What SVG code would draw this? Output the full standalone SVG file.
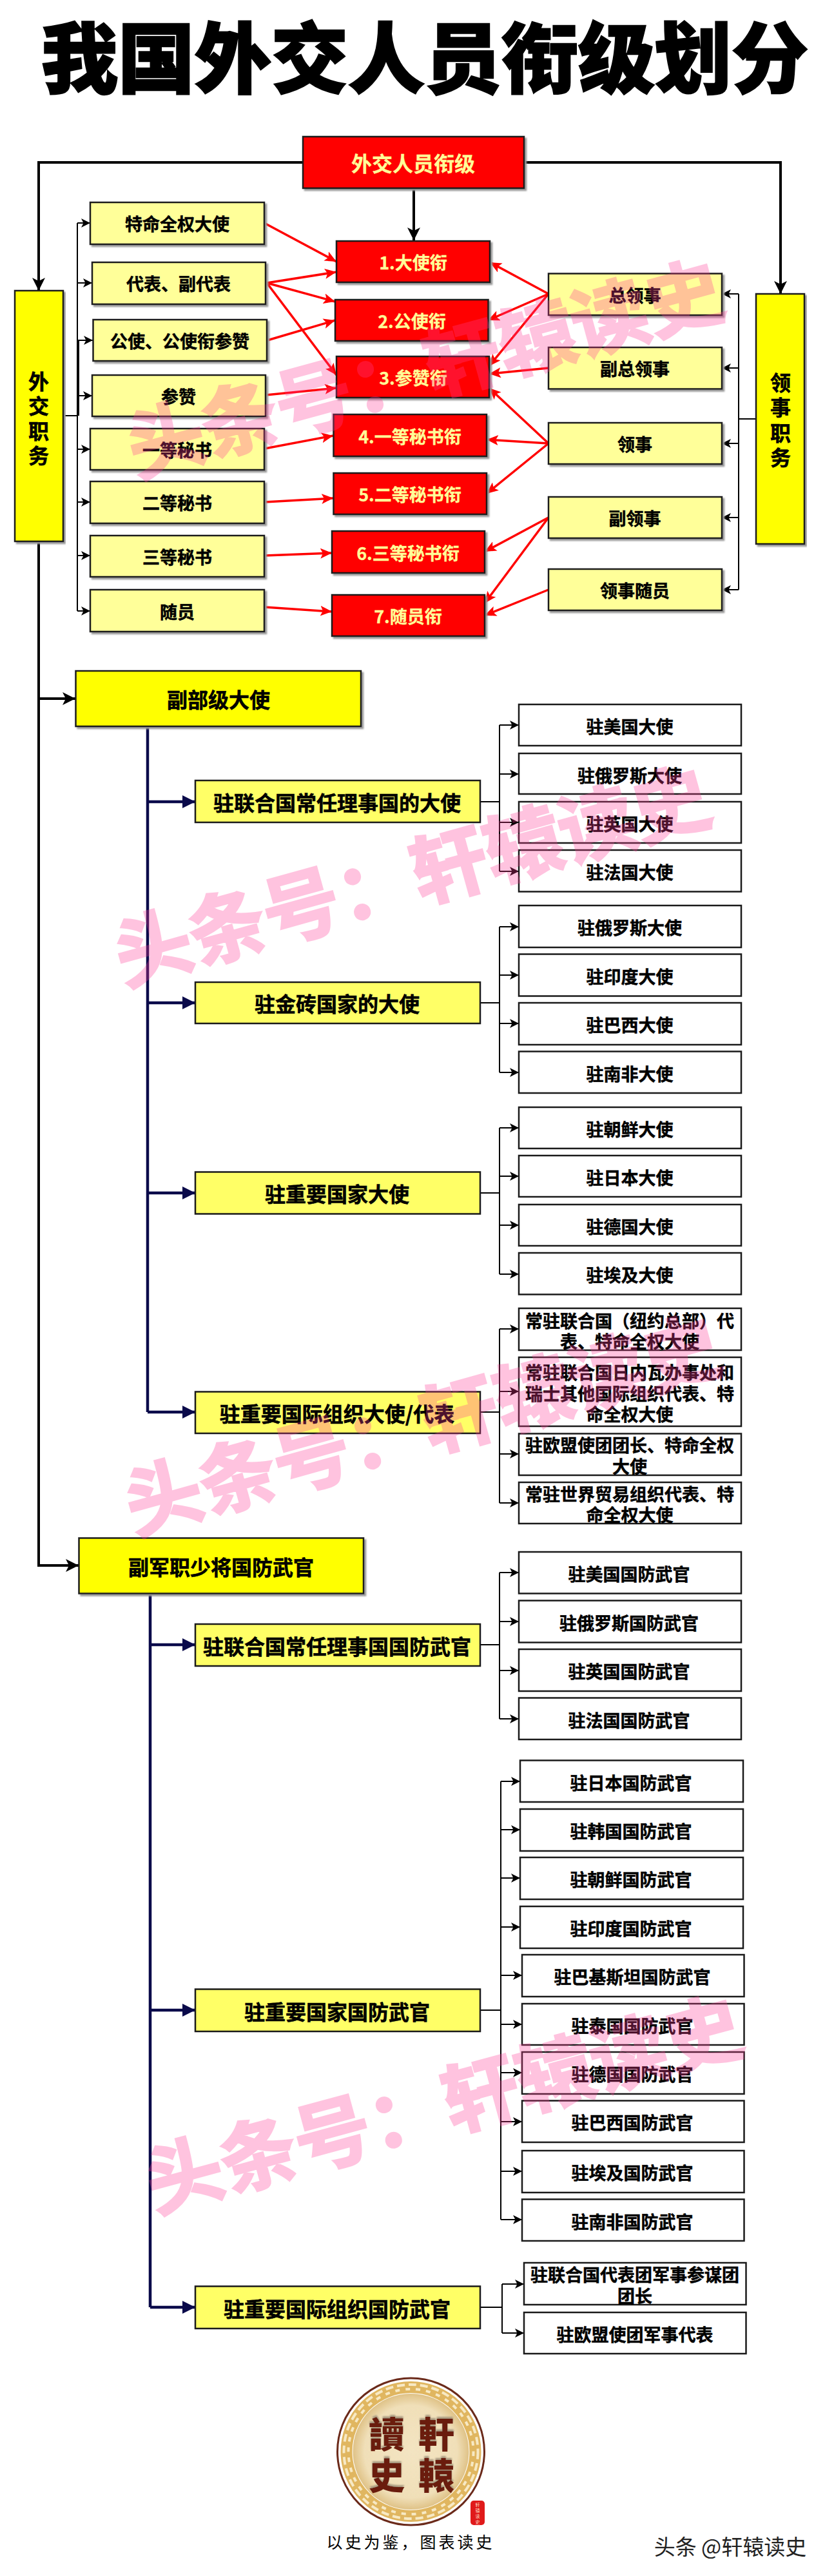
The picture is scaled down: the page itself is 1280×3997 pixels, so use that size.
<svg xmlns="http://www.w3.org/2000/svg" width="1280" height="3997" viewBox="0 0 1280 3997">
<style>
text{font-family:"Noto Sans CJK SC","Liberation Sans",sans-serif;font-weight:700;text-anchor:middle;dominant-baseline:central;fill:#000}
.t{font-size:119px;font-weight:900;dominant-baseline:auto;stroke:#000;stroke-width:2.500}
.s27{font-size:27px;stroke:#000;stroke-width:.5}.s32{font-size:32px;stroke:#000;stroke-width:.6}
.r,.y,.py,.l2,.w{stroke:#1a1a1a;stroke-width:2.5}
.r{fill:#f00;filter:url(#sh)}.y{fill:#ff0;filter:url(#sh)}.py{fill:#ff9;filter:url(#sh)}.l2{fill:#ff6}.w{fill:#fff}
text.rt{fill:#ff9;stroke:#ff9;stroke-width:.3}
.k,.kb,.n,.re{fill:none;stroke-linejoin:miter}
.k{stroke:#000;stroke-width:2;marker-end:url(#ak)}
.b{fill:none;stroke:#000;stroke-width:2}
.kb{stroke:#000;stroke-width:4;marker-end:url(#akb)}
.n{stroke:#0a0a4a;stroke-width:4.5}
.na{marker-end:url(#an)}
.re{stroke:#f00;stroke-width:3.5;marker-end:url(#ar)}
text.wm{font-size:119px;fill:#ff3c96;stroke:#ff3c96;stroke-width:3.500;opacity:.3;font-weight:700}
.lg{font-family:"Noto Sans CJK TC",sans-serif;font-size:56px;font-weight:900;fill:#6b1d10;filter:url(#ls)}
</style>
<defs>
<filter id="sh" x="-5%" y="-5%" width="110%" height="115%"><feDropShadow dx="3" dy="3" stdDeviation="1" flood-color="#999"/></filter>
<filter id="ls" x="-10%" y="-20%" width="120%" height="140%"><feDropShadow dx="0" dy="-3" stdDeviation="1" flood-color="#a89a80"/></filter>
<marker id="ak" markerUnits="userSpaceOnUse" markerWidth="14" markerHeight="14" refX="14" refY="7" orient="auto"><path d="M0 0L14 7L0 14L3.500 7Z" fill="#000"/></marker>
<marker id="akb" markerUnits="userSpaceOnUse" markerWidth="20" markerHeight="20" refX="20" refY="10" orient="auto"><path d="M0 0L20 10L0 20L5 10Z" fill="#000"/></marker>
<marker id="an" markerUnits="userSpaceOnUse" markerWidth="20" markerHeight="20" refX="20" refY="10" orient="auto"><path d="M0 0L20 10L0 20Z" fill="#0a0a4a"/></marker>
<marker id="ar" markerUnits="userSpaceOnUse" markerWidth="18" markerHeight="16" refX="18" refY="8" orient="auto"><path d="M0 0L18 8L0 16L4 8Z" fill="#f00"/></marker>
<radialGradient id="lgg"><stop offset="0" stop-color="#f3e4c2"/><stop offset=".8" stop-color="#f0dfb8"/><stop offset="1" stop-color="#dfc287"/></radialGradient>
</defs>
<rect width="1280" height="3997" fill="#fff"/>
<text class="t" x="659" y="135">我国外交人员衔级划分</text>
<g id="connectors">
<path class="kb" d="M470 252H60V451"/><path class="kb" d="M813 252H1211V456"/><path class="kb" d="M642 292V373"/>
<path class="b" d="M98 645H120M120 346V948M122 528V645"/>
<path class="k" d="M120 346H140"/><path class="k" d="M120 439H143"/><path class="k" d="M120 528H144"/><path class="k" d="M120 614H143"/><path class="k" d="M120 697H140"/><path class="k" d="M120 779H140"/><path class="k" d="M120 862H140"/><path class="k" d="M120 948H140"/>
<path class="b" d="M1173 650H1146M1146 456V915"/>
<path class="k" d="M1146 456H1120"/><path class="k" d="M1146 571H1120"/><path class="k" d="M1146 688H1120"/><path class="k" d="M1146 803H1120"/><path class="k" d="M1146 915H1120"/>
<path class="re" d="M410 346L522 406"/><path class="re" d="M414 439L522 422"/><path class="re" d="M414 439L520 468"/><path class="re" d="M414 439L522 582"/><path class="re" d="M415 528L520 497"/><path class="re" d="M412 613L522 602"/><path class="re" d="M411 696L517 676"/><path class="re" d="M411 779L517 773"/><path class="re" d="M411 862L515 858"/><path class="re" d="M411 942L515 949"/>
<path class="re" d="M851 456L760 407"/><path class="re" d="M851 456L757 497"/><path class="re" d="M851 456L759 568"/><path class="re" d="M851 571L759 580"/><path class="re" d="M851 688L759 602"/><path class="re" d="M851 688L755 682"/><path class="re" d="M851 688L755 766"/><path class="re" d="M851 803L752 856"/><path class="re" d="M851 803L752 936"/><path class="re" d="M851 915L752 955"/>
<path class="kb" d="M60 840V2429H122"/><path class="kb" d="M60 1084H117"/>
<path class="n" d="M229 1127V2191"/><path class="n na" d="M229 1244H303"/><path class="n na" d="M229 1556H303"/><path class="n na" d="M229 1851H303"/><path class="n na" d="M229 2191H303"/>
<path class="n" d="M233 2473V3580"/><path class="n na" d="M233 2552H303"/><path class="n na" d="M233 3119H303"/><path class="n na" d="M233 3580H303"/>
<path class="b" d="M745 1244H775M775 1125V1352"/><path class="k" d="M775 1125H805"/><path class="k" d="M775 1201H805"/><path class="k" d="M775 1276H805"/><path class="k" d="M775 1352H805"/>
<path class="b" d="M745 1556H775M775 1438V1664"/><path class="k" d="M775 1438H805"/><path class="k" d="M775 1513H805"/><path class="k" d="M775 1588H805"/><path class="k" d="M775 1664H805"/>
<path class="b" d="M745 1851H775M775 1750V1977"/><path class="k" d="M775 1750H805"/><path class="k" d="M775 1825H805"/><path class="k" d="M775 1901H805"/><path class="k" d="M775 1977H805"/>
<path class="b" d="M745 2191H775M775 2062V2332"/><path class="k" d="M775 2062H805"/><path class="k" d="M775 2159H805"/><path class="k" d="M775 2256H805"/><path class="k" d="M775 2332H805"/>
<path class="b" d="M745 2552H775M775 2440V2667"/><path class="k" d="M775 2440H805"/><path class="k" d="M775 2516H805"/><path class="k" d="M775 2592H805"/><path class="k" d="M775 2667H805"/>
<path class="b" d="M745 3119H777M777 2764V3444"/><path class="k" d="M777 2764H807"/><path class="k" d="M777 2839H807"/><path class="k" d="M777 2914H807"/><path class="k" d="M777 2990H807"/><path class="k" d="M777 3065H810"/><path class="k" d="M777 3141H810"/><path class="k" d="M777 3216H810"/><path class="k" d="M777 3292H810"/><path class="k" d="M777 3369H810"/><path class="k" d="M777 3444H810"/>
<path class="b" d="M745 3580H779M779 3544V3620"/><path class="k" d="M779 3544H813"/><path class="k" d="M779 3620H813"/>
</g>
<g id="root"><rect class="r" x="470" y="212" width="343" height="80"/><text class="s32 rt" x="641" y="252">外交人员衔级</text></g>
<g id="waijiao"><rect class="y" x="23" y="451" width="75" height="389"/><text class="s32" x="60" y="590">外</text><text class="s32" x="60" y="628">交</text><text class="s32" x="60" y="667">职</text><text class="s32" x="60" y="705">务</text></g>
<g id="lingshi"><rect class="y" x="1173" y="456" width="75" height="388"/><text class="s32" x="1211" y="592">领</text><text class="s32" x="1211" y="630">事</text><text class="s32" x="1211" y="670">职</text><text class="s32" x="1211" y="708">务</text></g>
<g id="a1"><rect class="py" x="140" y="314" width="270" height="65"/><text class="s27" x="275" y="346">特命全权大使</text></g>
<g id="a2"><rect class="py" x="143" y="407" width="269" height="65"/><text class="s27" x="277" y="439">代表、副代表</text></g>
<g id="a3"><rect class="py" x="144.500" y="496" width="269.500" height="64"/><text class="s27" x="279" y="528">公使、公使衔参赞</text></g>
<g id="a4"><rect class="py" x="143" y="582" width="269" height="64"/><text class="s27" x="277" y="614">参赞</text></g>
<g id="a5"><rect class="py" x="140" y="665" width="270" height="64"/><text class="s27" x="275" y="697">一等秘书</text></g>
<g id="a6"><rect class="py" x="140" y="747" width="270" height="65"/><text class="s27" x="275" y="779">二等秘书</text></g>
<g id="a7"><rect class="py" x="140" y="831" width="270" height="64"/><text class="s27" x="275" y="863">三等秘书</text></g>
<g id="a8"><rect class="py" x="140" y="915" width="270" height="65"/><text class="s27" x="275" y="948">随员</text></g>
<g id="r1"><rect class="r" x="522" y="374" width="238" height="64"/><text class="s27 rt" x="641" y="406">1.大使衔</text></g>
<g id="r2"><rect class="r" x="520" y="465" width="237.500" height="64"/><text class="s27 rt" x="639" y="497">2.公使衔</text></g>
<g id="r3"><rect class="r" x="522" y="553" width="237" height="64"/><text class="s27 rt" x="641" y="585">3.参赞衔</text></g>
<g id="r4"><rect class="r" x="517.500" y="643" width="237.500" height="65"/><text class="s27 rt" x="636" y="676">4.一等秘书衔</text></g>
<g id="r5"><rect class="r" x="517.500" y="734" width="237.500" height="64"/><text class="s27 rt" x="636" y="766">5.二等秘书衔</text></g>
<g id="r6"><rect class="r" x="515" y="824" width="237" height="65"/><text class="s27 rt" x="633" y="857">6.三等秘书衔</text></g>
<g id="r7"><rect class="r" x="515" y="923" width="237" height="64"/><text class="s27 rt" x="633" y="955">7.随员衔</text></g>
<g id="c1"><rect class="py" x="851" y="424.500" width="269" height="64.500"/><text class="s27" x="985" y="457">总领事</text></g>
<g id="c2"><rect class="py" x="851" y="539" width="269" height="64.500"/><text class="s27" x="985" y="571">副总领事</text></g>
<g id="c3"><rect class="py" x="851" y="656" width="269" height="64"/><text class="s27" x="985" y="688">领事</text></g>
<g id="c4"><rect class="py" x="851" y="771" width="269" height="64"/><text class="s27" x="985" y="803">副领事</text></g>
<g id="c5"><rect class="py" x="851" y="883" width="269" height="64"/><text class="s27" x="985" y="915">领事随员</text></g>
<g id="h1"><rect class="y" x="117.500" y="1041" width="442.500" height="86"/><text class="s32" x="339" y="1084">副部级大使</text></g>
<g id="h2"><rect class="y" x="122.500" y="2386.500" width="441.500" height="86"/><text class="s32" x="343" y="2430">副军职少将国防武官</text></g>
<g id="m1"><rect class="l2" x="303" y="1211" width="442" height="65"/><text class="s32" x="523" y="1244">驻联合国常任理事国的大使</text></g>
<g id="m2"><rect class="l2" x="303" y="1524" width="442" height="64"/><text class="s32" x="523" y="1556">驻金砖国家的大使</text></g>
<g id="m3"><rect class="l2" x="303" y="1818.500" width="442" height="65"/><text class="s32" x="523" y="1851">驻重要国家大使</text></g>
<g id="m4"><rect class="l2" x="303" y="2159.500" width="442" height="64.500"/><text class="s32" x="523" y="2192">驻重要国际组织大使/代表</text></g>
<g id="m5"><rect class="l2" x="303" y="2520" width="442" height="65"/><text class="s32" x="523" y="2553">驻联合国常任理事国国防武官</text></g>
<g id="m6"><rect class="l2" x="303" y="3086.500" width="442" height="65.500"/><text class="s32" x="523" y="3120">驻重要国家国防武官</text></g>
<g id="m7"><rect class="l2" x="303" y="3547.500" width="442" height="65.500"/><text class="s32" x="523" y="3581">驻重要国际组织国防武官</text></g>
<g id="l1"><rect class="w" x="805" y="1093" width="345" height="64"/><text class="s27" x="977" y="1126">驻美国大使</text></g>
<g id="l2"><rect class="w" x="805" y="1169" width="345" height="63"/><text class="s27" x="977" y="1202">驻俄罗斯大使</text></g>
<g id="l3"><rect class="w" x="805" y="1244" width="345" height="64"/><text class="s27" x="977" y="1277">驻英国大使</text></g>
<g id="l4"><rect class="w" x="805" y="1319" width="345" height="64.500"/><text class="s27" x="977" y="1352">驻法国大使</text></g>
<g id="l5"><rect class="w" x="805" y="1405" width="345" height="65"/><text class="s27" x="977" y="1438">驻俄罗斯大使</text></g>
<g id="l6"><rect class="w" x="805" y="1480.500" width="345" height="65"/><text class="s27" x="977" y="1514">驻印度大使</text></g>
<g id="l7"><rect class="w" x="805" y="1556" width="345" height="65"/><text class="s27" x="977" y="1589">驻巴西大使</text></g>
<g id="l8"><rect class="w" x="805" y="1631.500" width="345" height="64.500"/><text class="s27" x="977" y="1665">驻南非大使</text></g>
<g id="l9"><rect class="w" x="805" y="1718" width="345" height="64"/><text class="s27" x="977" y="1751">驻朝鲜大使</text></g>
<g id="l10"><rect class="w" x="805" y="1793" width="345" height="64"/><text class="s27" x="977" y="1826">驻日本大使</text></g>
<g id="l11"><rect class="w" x="805" y="1869" width="345" height="64"/><text class="s27" x="977" y="1902">驻德国大使</text></g>
<g id="l12"><rect class="w" x="805" y="1944" width="345" height="64.500"/><text class="s27" x="977" y="1977">驻埃及大使</text></g>
<g id="l13"><rect class="w" x="805" y="2030" width="345" height="65"/><text class="s27" x="977" y="2048">常驻联合国（纽约总部）代</text><text class="s27" x="977" y="2080">表、特命全权大使</text></g>
<g id="l14"><rect class="w" x="805" y="2106" width="345" height="107"/><text class="s27" x="977" y="2128">常驻联合国日内瓦办事处和</text><text class="s27" x="977" y="2161">瑞士其他国际组织代表、特</text><text class="s27" x="977" y="2193">命全权大使</text></g>
<g id="l15"><rect class="w" x="805" y="2224.500" width="345" height="64.500"/><text class="s27" x="977" y="2241">驻欧盟使团团长、特命全权</text><text class="s27" x="977" y="2274">大使</text></g>
<g id="l16"><rect class="w" x="805" y="2300" width="345" height="64"/><text class="s27" x="977" y="2317">常驻世界贸易组织代表、特</text><text class="s27" x="977" y="2349">命全权大使</text></g>
<g id="l17"><rect class="w" x="805" y="2408" width="345" height="64.500"/><text class="s27" x="976" y="2441">驻美国国防武官</text></g>
<g id="l18"><rect class="w" x="805" y="2483.500" width="345" height="65"/><text class="s27" x="976" y="2517">驻俄罗斯国防武官</text></g>
<g id="l19"><rect class="w" x="805" y="2559" width="345" height="65"/><text class="s27" x="976" y="2592">驻英国国防武官</text></g>
<g id="l20"><rect class="w" x="805" y="2634.500" width="345" height="64.500"/><text class="s27" x="976" y="2668">驻法国国防武官</text></g>
<g id="l21"><rect class="w" x="807" y="2731.500" width="346" height="64.500"/><text class="s27" x="979" y="2765">驻日本国防武官</text></g>
<g id="l22"><rect class="w" x="807" y="2807" width="346" height="65"/><text class="s27" x="979" y="2840">驻韩国国防武官</text></g>
<g id="l23"><rect class="w" x="807" y="2882" width="346" height="65"/><text class="s27" x="979" y="2915">驻朝鲜国防武官</text></g>
<g id="l24"><rect class="w" x="807" y="2958" width="346" height="65"/><text class="s27" x="979" y="2991">驻印度国防武官</text></g>
<g id="l25"><rect class="w" x="810" y="3033" width="344.500" height="65"/><text class="s27" x="981" y="3066">驻巴基斯坦国防武官</text></g>
<g id="l26"><rect class="w" x="810" y="3109" width="344.500" height="64"/><text class="s27" x="981" y="3142">驻泰国国防武官</text></g>
<g id="l27"><rect class="w" x="810" y="3184" width="344.500" height="65"/><text class="s27" x="981" y="3217">驻德国国防武官</text></g>
<g id="l28"><rect class="w" x="810" y="3259.500" width="344.500" height="64.500"/><text class="s27" x="981" y="3292">驻巴西国防武官</text></g>
<g id="l29"><rect class="w" x="810" y="3337" width="344.500" height="65"/><text class="s27" x="981" y="3370">驻埃及国防武官</text></g>
<g id="l30"><rect class="w" x="810" y="3412.500" width="344.500" height="64.500"/><text class="s27" x="981" y="3446">驻南非国防武官</text></g>
<g id="l31"><rect class="w" x="813" y="3511" width="344.500" height="65"/><text class="s27" x="985" y="3528">驻联合国代表团军事参谋团</text><text class="s27" x="985" y="3561">团长</text></g>
<g id="l32"><rect class="w" x="813" y="3588" width="344.500" height="64"/><text class="s27" x="985" y="3621">驻欧盟使团军事代表</text></g>
<g id="logo">
<circle cx="637.500" cy="3804" r="114" fill="#fff" stroke="#6b2a1a" stroke-width="3"/>
<circle cx="637.500" cy="3804" r="100" fill="none" stroke="#e0b660" stroke-width="18"/>
<circle cx="637.500" cy="3804" r="104" fill="none" stroke="#f7e9c4" stroke-width="4" stroke-dasharray="12 6"/>
<circle cx="637.500" cy="3804" r="97" fill="none" stroke="#f7e9c4" stroke-width="4" stroke-dasharray="7 9"/>
<circle cx="637.500" cy="3804" r="90" fill="url(#lgg)"/>
<text class="lg" x="600" y="3773">讀</text><text class="lg" x="677" y="3773">軒</text><text class="lg" x="600" y="3837">史</text><text class="lg" x="677" y="3837">轅</text>
<rect x="730" y="3880" width="22" height="38" rx="5" fill="#e01a1a"/>
<text x="741" y="3886" style="font-size:7px;fill:#ffd9c0;font-weight:400">轩</text><text x="741" y="3895" style="font-size:7px;fill:#ffd9c0;font-weight:400">辕</text><text x="741" y="3904" style="font-size:7px;fill:#ffd9c0;font-weight:400">读</text><text x="741" y="3913" style="font-size:7px;fill:#ffd9c0;font-weight:400">史</text>
<text x="637" y="3943" style="font-size:25px;font-weight:400;letter-spacing:4px">以史为鉴，图表读史</text>
</g>
<g id="watermarks">
<text class="wm" transform="translate(657 564) rotate(-15.300)">头条号：轩辕读史</text>
<text class="wm" transform="translate(637 1351) rotate(-15.500)">头条号：轩辕读史</text>
<text class="wm" transform="translate(653 2203) rotate(-15.500)">头条号：轩辕读史</text>
<text class="wm" transform="translate(686 3257) rotate(-15.200)">头条号：轩辕读史</text>
</g>
<text x="1133" y="3950" style="font-size:33px;font-weight:400;fill:#222">头条 @轩辕读史</text>
</svg>
